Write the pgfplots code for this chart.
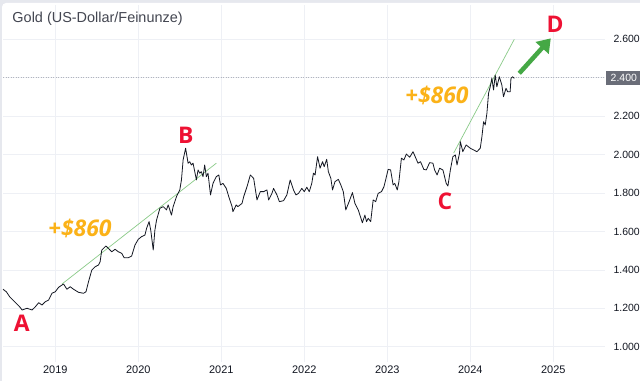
\documentclass[border=0pt]{standalone}
\usepackage{pgfplots}
\pgfplotsset{compat=1.18}
\usepackage{fontspec}
\setmainfont{Liberation Sans}
\newfontfamily\osans{Open Sans}
\usetikzlibrary{arrows.meta}
\definecolor{bgc}{HTML}{E6E8EE}
\definecolor{gridc}{HTML}{EEF0F5}
\definecolor{linec}{HTML}{131722}
\definecolor{titlec}{HTML}{434651}
\definecolor{redc}{HTML}{EE1133}
\definecolor{orangec}{HTML}{FBB218}
\definecolor{trendc}{HTML}{8ACB88}
\definecolor{arrowc}{HTML}{45A845}
\definecolor{badgec}{HTML}{6A6D78}
\definecolor{dotc}{HTML}{B2B5BE}
\begin{document}
\begin{tikzpicture}[x=1bp,y=1bp]
\clip (0,0) rectangle (640,381);
\fill[bgc] (0,0) rectangle (640,381);
\fill[white, rounded corners=4bp] (2,-10) rectangle (650,378);
\begin{axis}[
  at={(3bp,19bp)}, anchor=south west,
  scale only axis, width=602bp, height=357bp,
  xmin=2018.37, xmax=2025.623, ymin=920.3, ymax=2778.5,
  axis line style={draw=none},
  major tick length=0pt,
  grid=major, grid style={color=gridc, line width=0.6bp},
  xtick={2019,2020,2021,2022,2023,2024,2025},
  xticklabels={2019,2020,2021,2022,2023,2024,2025},
  ytick={1000,1200,1400,1600,1800,2000,2200,2400,2600},
  yticklabels={1.000,1.200,1.400,1.600,1.800,2.000,2.200,{},2.600},
  yticklabel pos=right,
  xticklabel style={font=\fontsize{11}{13}\selectfont, color=linec, anchor=center, yshift=-8bp},
  yticklabel style={font=\fontsize{10.5}{13}\selectfont, color=linec, anchor=west, xshift=5bp},
  clip=false,
]
\addplot[color=dotc, line width=0.8bp, dash pattern=on 1bp off 1.5bp] coordinates {(2018.37,2400) (2025.623,2400)};
\addplot[color=trendc, line width=0.7bp] coordinates {(2019.08,1326) (2020.94,1955)};
\addplot[color=trendc, line width=0.7bp] coordinates {(2023.80,2008) (2024.53,2600)};
\addplot[color=linec, line width=0.8bp, line join=round] coordinates {
(2018.37,1299) (2018.41,1286) (2018.45,1260) (2018.51,1234) (2018.57,1208) (2018.60,1191)
(2018.66,1200) (2018.72,1191) (2018.76,1208) (2018.80,1229) (2018.84,1217) (2018.88,1234)
(2018.92,1243) (2018.96,1278) (2019.00,1286) (2019.04,1309) (2019.08,1321) (2019.10,1326)
(2019.14,1299) (2019.18,1312) (2019.22,1299) (2019.28,1283) (2019.34,1278) (2019.37,1286)
(2019.40,1338) (2019.44,1399) (2019.48,1416) (2019.52,1425) (2019.54,1442) (2019.56,1503)
(2019.61,1524) (2019.64,1512) (2019.68,1494) (2019.72,1507) (2019.76,1494) (2019.80,1486)
(2019.83,1463) (2019.88,1463) (2019.92,1472) (2019.96,1529) (2020.00,1559) (2020.04,1573)
(2020.08,1581) (2020.10,1616) (2020.13,1651) (2020.15,1607) (2020.18,1503) (2020.20,1607)
(2020.22,1659) (2020.26,1720) (2020.30,1729) (2020.34,1712) (2020.36,1738) (2020.40,1685)
(2020.42,1729) (2020.46,1781) (2020.50,1816) (2020.52,1868) (2020.54,1972) (2020.57,2033)
(2020.60,1955) (2020.62,1963) (2020.64,1946) (2020.66,1955) (2020.70,1868) (2020.72,1920)
(2020.74,1903) (2020.76,1911) (2020.78,1885) (2020.80,1946) (2020.82,1885) (2020.84,1903)
(2020.87,1790) (2020.90,1850) (2020.94,1885) (2020.97,1894) (2020.99,1842) (2021.02,1850)
(2021.06,1824) (2021.09,1781) (2021.13,1729) (2021.14,1703) (2021.18,1738) (2021.20,1729)
(2021.25,1746) (2021.27,1781) (2021.31,1833) (2021.35,1894) (2021.39,1876) (2021.43,1764)
(2021.47,1807) (2021.51,1807) (2021.55,1816) (2021.57,1764) (2021.61,1798) (2021.63,1824)
(2021.67,1790) (2021.70,1755) (2021.75,1760) (2021.79,1790) (2021.83,1868) (2021.87,1816)
(2021.90,1790) (2021.93,1798) (2021.97,1824) (2022.00,1807) (2022.03,1830) (2022.06,1807)
(2022.09,1850) (2022.11,1903) (2022.13,1894) (2022.16,1989) (2022.19,1929) (2022.22,1963)
(2022.24,1937) (2022.27,1975) (2022.29,1911) (2022.32,1876) (2022.34,1816) (2022.37,1859)
(2022.41,1871) (2022.44,1842) (2022.47,1807) (2022.50,1712) (2022.54,1755) (2022.58,1802)
(2022.61,1746) (2022.65,1712) (2022.67,1685) (2022.70,1645) (2022.73,1685) (2022.75,1651)
(2022.77,1668) (2022.80,1651) (2022.83,1764) (2022.86,1755) (2022.89,1798) (2022.93,1807)
(2022.96,1833) (2022.98,1868) (2023.01,1923) (2023.04,1920) (2023.07,1842) (2023.09,1850)
(2023.12,1816) (2023.14,1859) (2023.17,1981) (2023.20,1972) (2023.23,2003) (2023.27,1986)
(2023.31,2015) (2023.35,1975) (2023.37,1955) (2023.40,1963) (2023.44,1923) (2023.47,1920)
(2023.51,1958) (2023.55,1955) (2023.57,1920) (2023.60,1894) (2023.63,1929) (2023.67,1920)
(2023.71,1850) (2023.73,1836) (2023.76,1920) (2023.79,1989) (2023.82,1998) (2023.84,1946)
(2023.87,2007) (2023.88,2067) (2023.91,2015) (2023.95,2050) (2024.00,2033) (2024.04,2024)
(2024.08,2015) (2024.12,2033) (2024.14,2093) (2024.16,2171) (2024.18,2154) (2024.20,2215)
(2024.22,2319) (2024.24,2353) (2024.26,2397) (2024.28,2336) (2024.30,2414) (2024.32,2353)
(2024.35,2405) (2024.38,2362) (2024.40,2301) (2024.43,2345) (2024.45,2327) (2024.48,2327)
(2024.49,2397) (2024.51,2405) (2024.53,2397)
};
\draw[arrowc, line width=4.5bp, -{Triangle[length=13bp, width=17bp]}] (axis cs:2024.59,2423) -- (axis cs:2024.97,2605);
\end{axis}
\fill[badgec] (606,296) rectangle (640,310);
\node[anchor=west, inner sep=0pt, text=white, font=\fontsize{10.5}{13}\selectfont] at (610.5,303) {2.400};
\node[anchor=west, inner sep=0pt, text=titlec, font=\fontsize{14.5}{16}\selectfont] at (12.3,362) {Gold (US-Dollar/Feinunze)};
\node[text=redc, font=\osans\bfseries\fontsize{23}{26}\selectfont, inner sep=0pt] at (21.7,57.7) {A};
\node[text=redc, font=\osans\bfseries\fontsize{23}{26}\selectfont, inner sep=0pt] at (185.7,246) {B};
\node[text=redc, font=\osans\bfseries\fontsize{23}{26}\selectfont, inner sep=0pt] at (445,180) {C};
\node[text=redc, font=\osans\bfseries\fontsize{23}{26}\selectfont, inner sep=0pt] at (555,357) {D};
\node[text=orangec, font=\osans\bfseries\itshape\fontsize{23}{26}\selectfont, inner sep=0pt] at (80,152.7) {+\$860};
\node[text=orangec, font=\osans\bfseries\itshape\fontsize{23}{26}\selectfont, inner sep=0pt] at (437,285.3) {+\$860};
\end{tikzpicture}
\end{document}
